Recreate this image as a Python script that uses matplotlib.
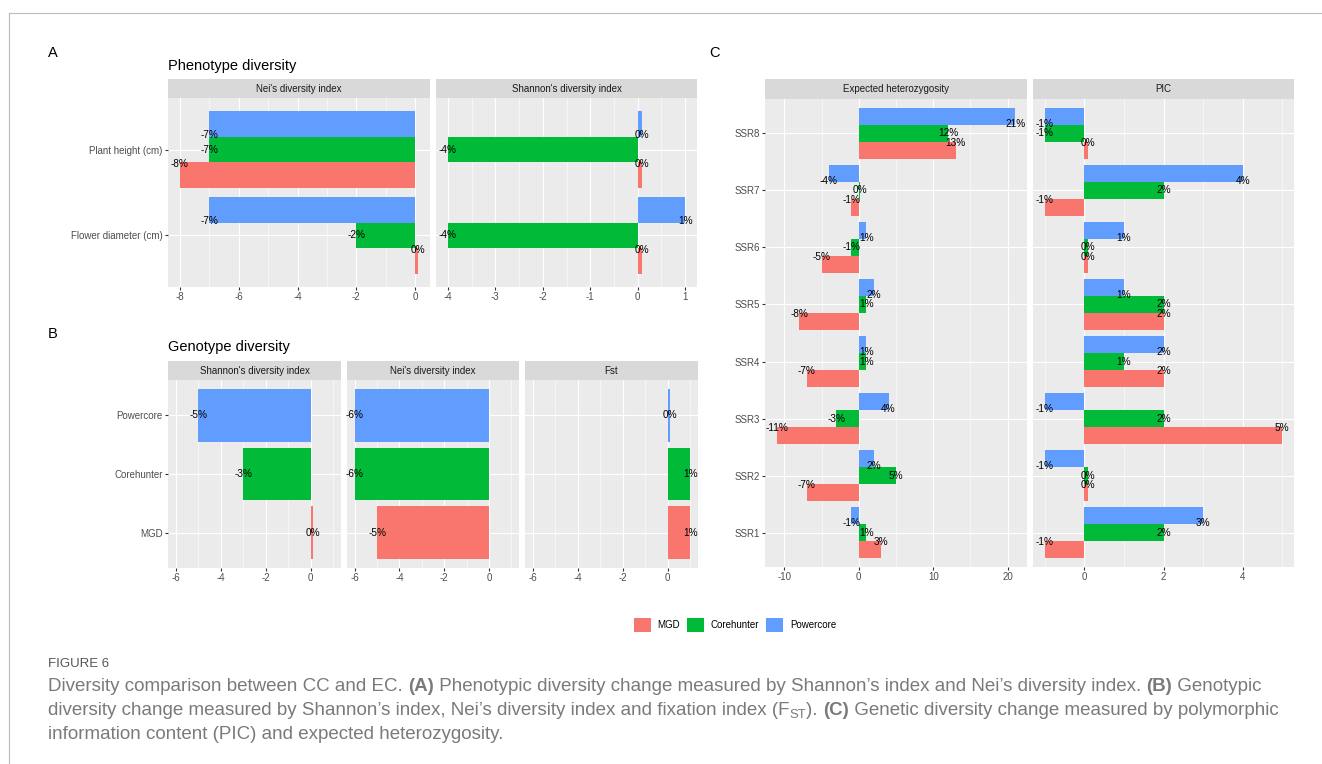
import matplotlib
matplotlib.use('Agg')
import matplotlib.pyplot as plt
from matplotlib.patches import Patch
from matplotlib.lines import Line2D
from matplotlib.ticker import MultipleLocator

plt.rcParams['font.family'] = ['Liberation Sans', 'DejaVu Sans']
plt.rcParams['axes.unicode_minus'] = False

W, H = 1322, 764

groups = ['MGD', 'Corehunter', 'Powercore']
colors = {'MGD': '#F8766D', 'Corehunter': '#00BA38', 'Powercore': '#619CFF'}

# A: phenotype diversity change (%), listed bottom to top
traits = ['Flower diameter (cm)', 'Plant height (cm)']
pheno_nei = {'MGD': [0.1, -8], 'Corehunter': [-2, -7], 'Powercore': [-7, -7]}
pheno_shannon = {'MGD': [0.1, 0.1], 'Corehunter': [-4, -4], 'Powercore': [1, 0.1]}

# B: genotype diversity change (%), one bar per core set
geno_sets = ['MGD', 'Corehunter', 'Powercore']
geno_shannon = [0.1, -3, -5]
geno_nei = [-5, -6, -6]
geno_fst = [1, 1, 0.1]

# C: per-marker change (%)
markers = ['SSR1', 'SSR2', 'SSR3', 'SSR4', 'SSR5', 'SSR6', 'SSR7', 'SSR8']
exp_het = {
    'MGD':        [3, -7, -11, -7, -8, -5, -1, 13],
    'Corehunter': [1, 5, -3, 1, 1, -1, 0.1, 12],
    'Powercore':  [-1, 2, 4, 1, 2, 1, -4, 21],
}
pic = {
    'MGD':        [-1, 0.1, 5, 2, 2, 0.1, -1, 0.1],
    'Corehunter': [2, 0.1, 2, 1, 2, 0.1, 2, -1],
    'Powercore':  [3, -1, -1, 2, 1, 1, 4, -1],
}

fig = plt.figure(figsize=(W / 100, H / 100), dpi=100)


def px_axes(x0, y0, x1, y1):
    return fig.add_axes([x0 / W, 1 - y1 / H, (x1 - x0) / W, (y1 - y0) / H])


def padded(vals):
    lo, hi = min(min(vals), 0), max(max(vals), 0)
    span = hi - lo
    return lo - 0.05 * span, hi + 0.05 * span


def facet(box, strip_top, label, xlim, step, ncat, ylabels=None):
    x0, y0, x1, y1 = box
    st = px_axes(x0, strip_top, x1, y0)
    st.set_facecolor('#D9D9D9')
    st.set_xticks([])
    st.set_yticks([])
    for s in st.spines.values():
        s.set_visible(False)
    st.text(0.5, 0.5, label, transform=st.transAxes, ha='center', va='center',
            fontsize=7, color='#1A1A1A')

    ax = px_axes(x0, y0, x1, y1)
    ax.set_facecolor('#EBEBEB')
    for s in ax.spines.values():
        s.set_visible(False)
    ax.set_xlim(*xlim)
    ax.set_ylim(0.4, ncat + 0.6)
    ax.xaxis.set_major_locator(MultipleLocator(step))
    ax.xaxis.set_minor_locator(MultipleLocator(step / 2))
    ax.set_yticks(range(1, ncat + 1))
    ax.grid(which='major', color='white', lw=0.8)
    ax.grid(which='minor', axis='x', color='white', lw=0.4)
    ax.set_axisbelow(True)
    ax.tick_params(axis='x', which='major', length=2.2, width=0.8, color='#333333',
                   labelsize=7, labelcolor='#4D4D4D', pad=1.5)
    ax.tick_params(axis='x', which='minor', length=0)
    if ylabels is None:
        ax.tick_params(axis='y', length=0, labelleft=False)
    else:
        ax.set_yticklabels(ylabels)
        ax.tick_params(axis='y', length=2.2, width=0.8, color='#333333',
                       labelsize=7, labelcolor='#4D4D4D', pad=1.5)
    return ax


def dodged(ax, data):
    for i, g in enumerate(groups):
        vals = data[g]
        ys = [k + 1 + (i - 1) * 0.3 for k in range(len(vals))]
        ax.barh(ys, vals, height=0.3, color=colors[g], zorder=2)
        for k, v in enumerate(vals):
            ax.text(v, k + 1 + (i - 1) * 0.5 / 3, f'{v:.0f}%', ha='center', va='center',
                    fontsize=7.2, color='black', zorder=3)


def single(ax, vals):
    ys = list(range(1, len(vals) + 1))
    ax.barh(ys, vals, height=0.9, color=[colors[g] for g in geno_sets], zorder=2)
    for y, v in zip(ys, vals):
        ax.text(v, y, f'{v:.0f}%', ha='center', va='center', fontsize=7.2, color='black', zorder=3)


# panel A
a_vals = [v for g in groups for v in pheno_nei[g]]
ax = facet((168, 98, 430, 287), 79, "Nei's diversity index", padded(a_vals), 2, 2, traits)
dodged(ax, pheno_nei)
a_vals = [v for g in groups for v in pheno_shannon[g]]
ax = facet((436, 98, 697, 287), 79, "Shannon's diversity index", padded(a_vals), 1, 2)
dodged(ax, pheno_shannon)

# panel B, x scale shared by the three facets
b_lim = padded(geno_shannon + geno_nei + geno_fst)
ax = facet((168, 380, 341, 568), 361, "Shannon's diversity index", b_lim, 2, 3, geno_sets)
single(ax, geno_shannon)
ax = facet((347, 380, 519, 568), 361, "Nei's diversity index", b_lim, 2, 3)
single(ax, geno_nei)
ax = facet((525, 380, 698, 568), 361, 'Fst', b_lim, 2, 3)
single(ax, geno_fst)

# panel C
c_vals = [v for g in groups for v in exp_het[g]]
ax = facet((765, 99, 1027, 567), 79, 'Expected heterozygosity', padded(c_vals), 10, 8, markers)
dodged(ax, exp_het)
c_vals = [v for g in groups for v in pic[g]]
ax = facet((1033, 99, 1294, 567), 79, 'PIC', padded(c_vals), 2, 8)
dodged(ax, pic)

# titles and panel letters
fig.text(168 / W, 1 - 66 / H, 'Phenotype diversity', fontsize=10.5, va='center', color='black')
fig.text(168 / W, 1 - 347 / H, 'Genotype diversity', fontsize=10.5, va='center', color='black')
for letter, x, y in [('A', 48, 53), ('B', 48, 334), ('C', 709, 53)]:
    fig.text(x / W, 1 - y / H, letter, fontsize=10.5, va='center', color='black')

handles = [Patch(facecolor=colors[g], edgecolor='none', label=g) for g in groups]
fig.legend(handles=handles, loc='center', bbox_to_anchor=(735 / W, 1 - 625 / H), ncol=3,
           frameon=False, fontsize=7, handlelength=1.75, handleheight=1.75,
           handletextpad=0.7, columnspacing=0.7, borderpad=0, borderaxespad=0)

# page frame
fig.add_artist(Line2D([9 / W, 1], [1 - 13 / H, 1 - 13 / H], color='#BBBBBB', lw=0.8))
fig.add_artist(Line2D([9 / W, 9 / W], [0, 1 - 13 / H], color='#BBBBBB', lw=0.8))

# caption
cap_font = ['Liberation Sans']
cap_color = '#7A7A7A'
renderer = fig.canvas.get_renderer()


def run_width(s, **kw):
    a = fig.text(0, 0, '|' + s + '|', **kw)
    b = fig.text(0, 0, '||', **kw)
    w = a.get_window_extent(renderer).width - b.get_window_extent(renderer).width
    a.remove()
    b.remove()
    return w


def draw_runs(x, y, runs, size=13.5):
    for s, bold, sub in runs:
        kw = dict(fontsize=size * 0.7 if sub else size, family=cap_font, color=cap_color,
                  fontweight='bold' if bold else 'normal')
        fig.text(x / W, 1 - (y + (3 if sub else 0)) / H, s, va='baseline', **kw)
        x += run_width(s, **kw)


fig.text(48 / W, 1 - 667 / H, 'FIGURE 6', fontsize=9.5, family=cap_font, color='#555555',
         va='baseline')
draw_runs(48, 691, [
    ('Diversity comparison between CC and EC. ', False, False), ('(A)', True, False),
    (' Phenotypic diversity change measured by Shannon\u2019s index and Nei\u2019s diversity index. ', False, False),
    ('(B)', True, False), (' Genotypic', False, False)])
draw_runs(48, 715, [
    ('diversity change measured by Shannon\u2019s index, Nei\u2019s diversity index and fixation index (F', False, False),
    ('ST', False, True), ('). ', False, False), ('(C)', True, False),
    (' Genetic diversity change measured by polymorphic', False, False)])
draw_runs(48, 739, [('information content (PIC) and expected heterozygosity.', False, False)])

fig.savefig('out.png', dpi=100)
